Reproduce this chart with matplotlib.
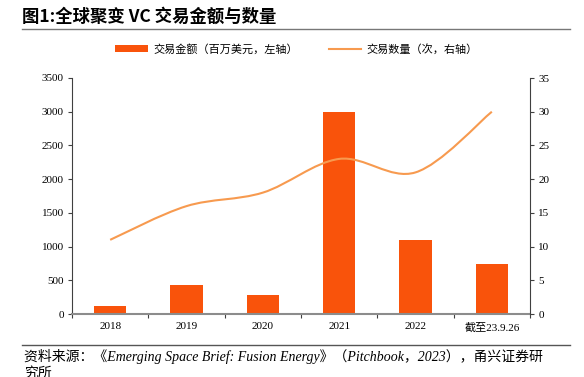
import matplotlib
matplotlib.use("Agg")
import matplotlib.pyplot as plt
from matplotlib.path import Path
from matplotlib.patches import PathPatch
from matplotlib.lines import Line2D
from matplotlib.patches import Patch
import numpy as np

categories = ["2018", "2019", "2020", "2021", "2022", "截至23.9.26"]
amount = [120, 430, 280, 3000, 1100, 740]      # 交易金额（百万美元）
count = [11, 16, 18, 23, 21, 30]               # 交易数量（次）
left_ticks = [0, 500, 1000, 1500, 2000, 2500, 3000, 3500]
right_ticks = [0, 5, 10, 15, 20, 25, 30, 35]

title = "图1:全球聚变 VC 交易金额与数量"
legend_bar = "交易金额（百万美元，左轴）"
legend_line = "交易数量（次，右轴）"
source = "资料来源：《Emerging Space Brief: Fusion Energy》（Pitchbook，2023），甬兴证券研\n究所"

BAR_C = "#F9530B"
LINE_C = "#F79A4F"
serif_cjk = ["Liberation Serif", "Noto Sans CJK SC"]
cjk = ["Noto Sans CJK SC", "DejaVu Sans"]

W, H = 584, 377
fig = plt.figure(figsize=(W / 100, H / 100), dpi=100)
ax = fig.add_axes([72 / W, 1 - 314 / H, (530 - 72) / W, (314 - 78) / H])
ax2 = ax.twinx()

x = np.arange(len(categories))
ax.bar(x, amount, width=0.42, color=BAR_C, zorder=2)
ax.set_xlim(-0.5, len(categories) - 0.5)
ax.set_ylim(0, 3500)
ax.set_yticks(left_ticks)
ax.set_yticklabels([str(t) for t in left_ticks], family=serif_cjk, fontsize=8)
ax.set_xticks(x)
ax.set_xticklabels(categories, family=serif_cjk, fontsize=8)
ax.set_xticks(np.arange(len(categories) + 1) - 0.5, minor=True)
ax.tick_params(axis="x", which="major", length=0, pad=6)
ax.tick_params(axis="x", which="minor", length=3, direction="out", color="#404040", width=0.8)
ax.tick_params(axis="y", length=3, direction="out", color="#404040", width=0.8, pad=3)

for s in ["top", "right"]:
    ax.spines[s].set_visible(False)
ax.spines["left"].set_color("#404040")
ax.spines["left"].set_linewidth(0.8)
ax.spines["bottom"].set_color("#8c8c8c")
ax.spines["bottom"].set_linewidth(1.5)

ax2.set_ylim(0, 35)
ax2.set_yticks(right_ticks)
ax2.set_yticklabels([str(t) for t in right_ticks], family=serif_cjk, fontsize=8)
ax2.tick_params(axis="y", length=3, direction="out", color="#404040", width=0.8, pad=3)
for s in ["top", "left", "bottom"]:
    ax2.spines[s].set_visible(False)
ax2.spines["right"].set_color("#404040")
ax2.spines["right"].set_linewidth(0.8)

# smoothed line (Catmull-Rom style Bezier through the data points)
pts = np.column_stack([x, count]).astype(float)
verts = [tuple(pts[0])]
codes = [Path.MOVETO]
n = len(pts)
for i in range(n - 1):
    p0 = pts[i - 1] if i > 0 else pts[i]
    p1 = pts[i]
    p2 = pts[i + 1]
    p3 = pts[i + 2] if i + 2 < n else pts[i + 1]
    c1 = p1 + (p2 - p0) / 6
    c2 = p2 - (p3 - p1) / 6
    verts += [tuple(c1), tuple(c2), tuple(p2)]
    codes += [Path.CURVE4] * 3
ax2.add_patch(PathPatch(Path(verts, codes), facecolor="none", edgecolor=LINE_C, lw=1.5, zorder=3))

# legend
handles = [Patch(facecolor=BAR_C, edgecolor="none"), Line2D([0], [0], color=LINE_C, lw=1.5)]
fig.legend(handles, [legend_bar, legend_line], loc="center", bbox_to_anchor=(0.508, 1 - 49 / H),
           ncol=2, frameon=False, prop={"family": cjk, "size": 8},
           handlelength=2.9, handleheight=0.6, columnspacing=2.8, handletextpad=0.5)

# title and decorations
fig.text(22 / W, 1 - 17 / H, title, family=cjk, fontsize=12.5, fontweight="bold", va="center", ha="left")
fig.add_artist(Line2D([22 / W, 570 / W], [1 - 29 / H, 1 - 29 / H], color="#777777", lw=1.0))
fig.add_artist(Line2D([22 / W, 570 / W], [1 - 345 / H, 1 - 345 / H], color="#555555", lw=1.0))
fig.text(24 / W, 1 - 349 / H, source, family=serif_cjk, style="italic", fontsize=10,
         va="top", ha="left", linespacing=1.25)

fig.savefig("out.png", dpi=100)
